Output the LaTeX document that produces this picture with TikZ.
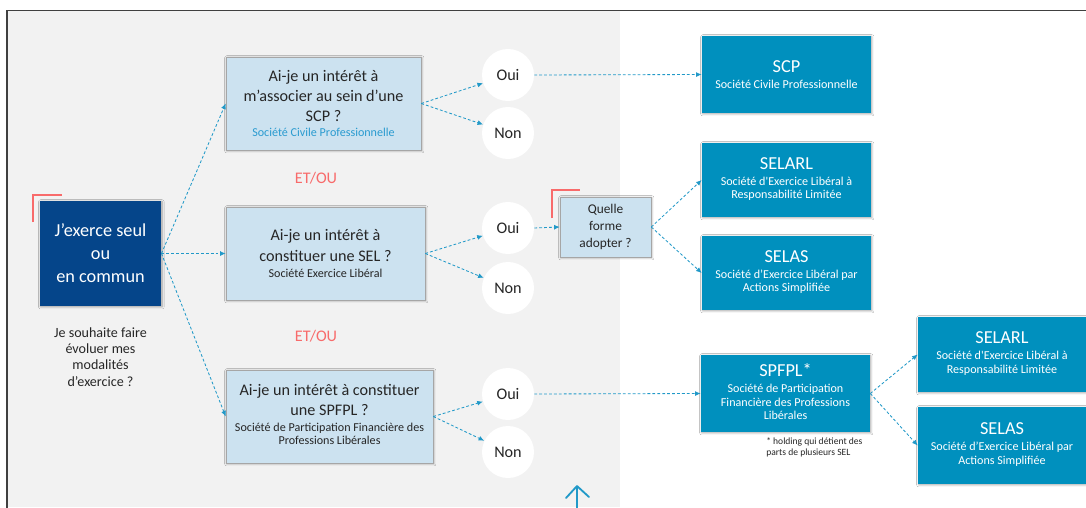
\documentclass[tikz,border=0pt]{standalone}
\usepackage{fontspec}
\setmainfont{Carlito}
\usepackage{tikz}
\usetikzlibrary{arrows.meta}
\usetikzlibrary{shadows.blur}

\definecolor{bggray}{HTML}{F2F2F2}
\definecolor{framegray}{HTML}{404040}
\definecolor{darkblue}{HTML}{05458A}
\definecolor{tealbox}{HTML}{0090BE}
\definecolor{lightbox}{HTML}{CCE2F0}
\definecolor{boxborder}{HTML}{A6A6A6}
\definecolor{linkblue}{HTML}{2199C8}
\definecolor{subblue}{HTML}{2A9BD0}
\definecolor{etou}{HTML}{F86B6B}
\definecolor{darktext}{HTML}{262626}

\setlength{\parindent}{0pt}
\newcommand{\soustitre}{\fontsize{8.6}{9.6}\selectfont}
\newcommand{\sousbloc}[1]{{\soustitre\begin{tabular}[t]{@{}c@{}}#1\end{tabular}\par}}

\begin{document}
\begin{tikzpicture}[x=0.025cm, y=-0.025cm,
    link/.style={-{Latex[length=4pt, width=3.5pt]}, dash pattern=on 2pt off 1.5pt, line width=0.6pt, draw=linkblue},
    boxshadow/.style={blur shadow={shadow blur steps=6, shadow xshift=0.6pt, shadow yshift=-0.6pt, shadow blur radius=1.5pt, shadow opacity=35}},
    question/.style={rectangle, draw=boxborder, line width=0.4pt, fill=lightbox, boxshadow, minimum height=2.325cm, inner sep=2pt, align=flush center, text=darktext, font=\fontsize{11.5}{14.5}\selectfont},
    answer/.style={circle, fill=white, minimum size=1.3cm, inner sep=0pt, text=darktext, font=\fontsize{11.5}{14}\selectfont},
    forme/.style={rectangle, fill=tealbox, boxshadow, inner sep=2pt, text width=4cm, align=flush center, text=white, font=\fontsize{13}{15}\selectfont},
    corner/.style={draw=etou, line width=2pt}]
    \useasboundingbox (0, 0) rectangle (1086, 507);
    \clip (0, 0) rectangle (1086, 507);
    \fill[white] (0, 0) rectangle (1086, 507);
    \fill[bggray] (7, 10.5) rectangle (620, 507);
    \draw[framegray, line width=0.9pt] (7, 520) -- (7, 10.5) -- (1100, 10.5);

    \draw[corner] (33, 222) -- (33, 195) -- (62, 195);
    \node[rectangle, fill=darkblue, boxshadow, minimum width=3.025cm, minimum height=2.625cm, text width=2.8cm, align=flush center, text=white, font=\fontsize{13}{16.3}\selectfont] (start) at (100.5, 253.5) {J’exerce seul\\ ou\\ en commun};
    \node[text width=2.8cm, align=flush center, text=darktext, font=\fontsize{10}{11.5}\selectfont] (souhait) at (100.5, 357) {Je souhaite faire\\ évoluer mes\\ modalités\\ d’exercice ?};

    \node[question, minimum width=4.875cm, text width=4.6cm] (scpq) at (323.5, 103.5) {Ai-je un intérêt à\\ m’associer au sein d’une\\ SCP ?\par\vspace{1pt}{\soustitre\color{subblue} Société Civile Professionnelle\par}};
    \node[question, minimum width=4.975cm, text width=4.7cm] (selq) at (325.5, 253.5) {Ai-je un intérêt à\\ constituer une SEL ?\par\vspace{2pt}{\soustitre Société Exercice Libéral\par}};
    \node[question, minimum width=5.175cm, text width=4.95cm] (spfplq) at (329.5, 416.5) {Ai-je un intérêt à constituer\\ une SPFPL ?\par\vspace{1.5pt}\sousbloc{Société de Participation Financière des\\ Professions Libérales}};

    \node[text=etou, font=\fontsize{11.5}{14}\selectfont] (etou1) at (316, 178) {ET/OU};
    \node[text=etou, font=\fontsize{11.5}{14}\selectfont] (etou2) at (316, 336) {ET/OU};

    \node[answer] (oui1) at (508, 75) {Oui};
    \node[answer] (non1) at (508, 133) {Non};
    \node[answer] (oui2) at (508, 228) {Oui};
    \node[answer] (non2) at (508, 288) {Non};
    \node[answer] (oui3) at (508, 394) {Oui};
    \node[answer] (non3) at (508, 452) {Non};

    \draw[corner] (552, 218) -- (552, 190) -- (580, 190);
    \node[rectangle, draw=boxborder, line width=0.4pt, fill=lightbox, boxshadow, minimum width=2.275cm, minimum height=1.5cm, text width=2cm, align=flush center, text=darktext, font=\fontsize{9.5}{12}\selectfont] (quelle) at (605.5, 227) {Quelle\\ forme\\ adopter ?};

    \node[forme, minimum width=4.225cm, minimum height=1.925cm] (scp) at (786.5, 74.5) {SCP\par\vspace{2pt}{\soustitre Société Civile Professionnelle\par}};
    \node[forme, minimum width=4.225cm, minimum height=1.85cm] (selarl) at (786.5, 180) {SELARL\par\vspace{2pt}\sousbloc{Société d\textquotesingle Exercice Libéral à\\ Responsabilité Limitée}};
    \node[forme, minimum width=4.225cm, minimum height=1.85cm] (selas) at (786.5, 273) {SELAS\par\vspace{2pt}\sousbloc{Société d’Exercice Libéral par\\ Actions Simplifiée}};
    \node[forme, minimum width=4.225cm, minimum height=1.925cm] (spfpl) at (785.5, 393.5) {SPFPL*\par\vspace{2pt}\sousbloc{Société de Participation\\ Financière des Professions\\ Libérales}};
    \node[forme, minimum width=4.2cm, minimum height=1.875cm] (selarlb) at (1002, 354.5) {SELARL\par\vspace{2pt}\sousbloc{Société d\textquotesingle Exercice Libéral à\\ Responsabilité Limitée}};
    \node[forme, minimum width=4.2cm, minimum height=1.925cm] (selasb) at (1002, 445.5) {SELAS\par\vspace{2pt}\sousbloc{Société d’Exercice Libéral par\\ Actions Simplifiée}};
    \node[anchor=north west, inner sep=0pt, align=left, text=darktext, font=\fontsize{6.8}{7.8}\selectfont] (holding) at (766, 437) {* holding qui détient des\\ parts de plusieurs SEL};

    \draw[link] (start.east) to (scpq.west);
    \draw[link] (start.east) to (selq.west);
    \draw[link] (start.east) to (spfplq.west);
    \draw[link] (scpq.east) to (oui1);
    \draw[link] (scpq.east) to (non1);
    \draw[link] (selq.east) to (oui2);
    \draw[link] (selq.east) to (non2);
    \draw[link] (spfplq.east) to (oui3);
    \draw[link] (spfplq.east) to (non3);
    \draw[link] (oui1.east) to (scp.west);
    \draw[link] (oui2.east) to (quelle.west);
    \draw[link] (quelle.east) to (selarl.west);
    \draw[link] (quelle.east) to (selas.west);
    \draw[link] (oui3.east) to (spfpl.west);
    \draw[link] (spfpl.east) to (selarlb.west);
    \draw[link] (spfpl.east) to (selasb.west);

    \coordinate (haut) at (577, 486);
    \draw[linkblue, line width=1.3pt, line cap=round, line join=round] (566, 498) -- (haut) -- (589, 497);
    \draw[linkblue, line width=1.3pt] (haut) -- (577, 510);
\end{tikzpicture}
\end{document}
